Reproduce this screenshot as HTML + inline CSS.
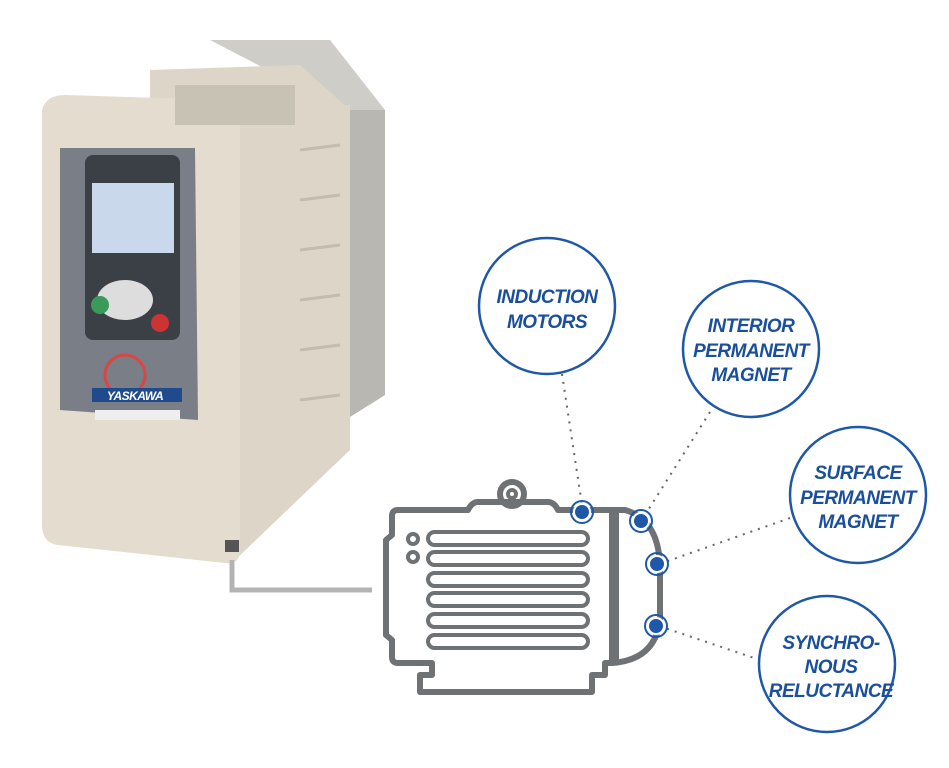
<!DOCTYPE html>
<html><head><style>
body{margin:0;background:#fff;}
svg{display:block}
text{font-family:"Liberation Sans",sans-serif;font-style:italic;font-weight:bold;fill:#1a4f9c;font-size:19px;text-anchor:middle;letter-spacing:-0.5px}
</style></head><body>
<svg width="949" height="768" viewBox="0 0 949 768">
<!-- drive -->
<polygon points="210,40 330,40 385,110 385,395 345,420 345,110" fill="#cfcdc8"/>
<polygon points="345,110 385,110 385,395 345,420" fill="#b9b7b2"/>
<polygon points="150,70 300,65 350,110 290,130 150,100" fill="#ddd6c8"/>
<polygon points="235,120 350,105 350,450 235,560" fill="#ddd6c8"/>
<g stroke="#c3bbab" stroke-width="3">
<line x1="300" y1="150" x2="340" y2="145"/><line x1="300" y1="200" x2="340" y2="195"/><line x1="300" y1="250" x2="340" y2="245"/><line x1="300" y1="300" x2="340" y2="295"/><line x1="300" y1="350" x2="340" y2="345"/><line x1="300" y1="400" x2="340" y2="395"/>
</g>
<path d="M42,110 Q46,95 65,95 L225,100 Q240,102 240,120 L240,550 Q240,565 225,563 L58,545 Q42,543 42,525 Z" fill="#e4ddcf"/>
<path d="M60,148 L195,148 L198,420 L60,410 Z" fill="#7a7e86"/>
<rect x="85" y="155" width="95" height="185" rx="8" fill="#3b3f46"/>
<rect x="92" y="183" width="82" height="70" fill="#c9d8ea"/>
<ellipse cx="125" cy="300" rx="28" ry="20" fill="#ddd"/>
<circle cx="100" cy="305" r="9" fill="#3a9a5a"/><circle cx="160" cy="323" r="9" fill="#c33"/>
<circle cx="125" cy="375" r="20" fill="none" stroke="#d44" stroke-width="3"/>
<rect x="92" y="388" width="90" height="14" fill="#1f4b8c"/>
<text x="135" y="400" style="fill:#fff;font-size:12px">YASKAWA</text>
<rect x="95" y="410" width="85" height="10" fill="#eee"/>
<rect x="175" y="85" width="120" height="40" fill="#c8c2b5"/>
<rect x="225" y="540" width="14" height="12" fill="#555"/>
<!-- cable -->
<path d="M232,560 L232,590 L372,590" fill="none" stroke="#b4b4b4" stroke-width="5"/>
<!-- motor -->
<g fill="none" stroke="#6e7275" stroke-width="6" stroke-linejoin="round">
<circle cx="512" cy="494" r="12"/><circle cx="512" cy="494" r="4" stroke-width="4"/>
<path d="M398,510 L468,510 Q472,502 478,502 L548,502 Q554,502 558,510 L612,510 L612,663 L605,663 L605,675 L592,675 L592,692 L420,692 L420,675 L432,675 L432,663 L398,663 Q392,663 392,657 L392,640 L386,635 L386,540 L392,535 L392,516 Q392,510 398,510 Z"/>
<path d="M612,510 L625,510 Q660,520 660,570 L660,620 Q655,660 612,663" />
</g>
<line x1="615" y1="510" x2="615" y2="663" stroke="#6e7275" stroke-width="8"/>
<g fill="none" stroke="#6e7275" stroke-width="4">
<rect x="428" y="532" width="160" height="13" rx="6.5"/>
<rect x="428" y="552" width="160" height="13" rx="6.5"/>
<rect x="428" y="573" width="160" height="13" rx="6.5"/>
<rect x="428" y="593" width="160" height="13" rx="6.5"/>
<rect x="428" y="614" width="160" height="13" rx="6.5"/>
<rect x="428" y="635" width="160" height="13" rx="6.5"/>
<circle cx="413" cy="539" r="5"/><circle cx="413" cy="557" r="5"/>
</g>
<!-- dotted connectors -->
<g stroke="#666" stroke-width="2" stroke-dasharray="2,6" fill="none">
<line x1="562" y1="374" x2="582" y2="505"/>
<line x1="710" y1="412" x2="645" y2="515"/>
<line x1="790" y1="518" x2="665" y2="562"/>
<line x1="760" y1="660" x2="665" y2="628"/>
</g>
<g fill="#1e58a6" stroke="#fff" stroke-width="2">
<circle cx="582" cy="512" r="8"/><circle cx="641" cy="521" r="8"/><circle cx="657" cy="564" r="8"/><circle cx="656" cy="626" r="8"/>
</g>
<g fill="none" stroke="#1e58a6" stroke-width="2">
<circle cx="582" cy="512" r="11"/><circle cx="641" cy="521" r="11"/><circle cx="657" cy="564" r="11"/><circle cx="656" cy="626" r="11"/>
</g>
<!-- labels -->
<g fill="#fff" stroke="#1e58a6" stroke-width="2.5">
<circle cx="547" cy="306" r="68"/><circle cx="751" cy="349" r="68"/><circle cx="858" cy="495" r="68"/><circle cx="827" cy="664" r="68"/>
</g>
<text x="547" y="303">INDUCTION</text><text x="547" y="328">MOTORS</text>
<text x="751" y="332">INTERIOR</text><text x="751" y="357">PERMANENT</text><text x="751" y="381">MAGNET</text>
<text x="858" y="479">SURFACE</text><text x="858" y="504">PERMANENT</text><text x="858" y="528">MAGNET</text>
<text x="831" y="649">SYNCHRO-</text><text x="831" y="673">NOUS</text><text x="831" y="697">RELUCTANCE</text>
</svg>
</body></html>
